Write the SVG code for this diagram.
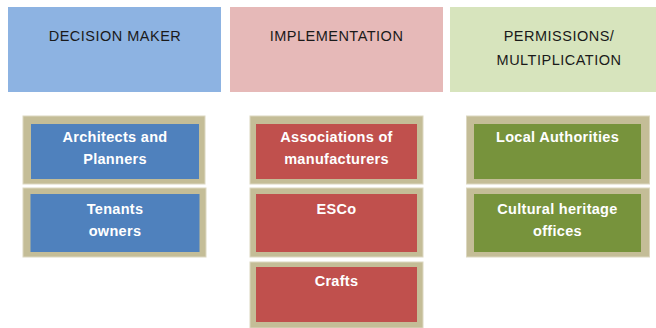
<svg xmlns="http://www.w3.org/2000/svg" width="656" height="328" viewBox="0 0 656 328">
<style>
.hdr{font-family:"Liberation Sans",Arial,sans-serif;font-size:14.5px;letter-spacing:0.5px;fill:#1a1a1a;text-anchor:middle}
.lbl{font-family:"Liberation Sans",Arial,sans-serif;font-size:14.5px;font-weight:bold;letter-spacing:0.3px;fill:#ffffff;text-anchor:middle}
.frame{fill:#C4BD97;stroke:#DCD7C0;stroke-width:1}
.blue{fill:#4F81BD}
.red{fill:#C0504D}
.green{fill:#77933C}
</style>
<rect width="656" height="328" fill="#ffffff"/>
<g id="hdr-decision">
<rect x="8" y="7" width="213" height="85" fill="#8DB3E2"/>
<text class="hdr" x="115" y="40.5">DECISION MAKER</text>
</g>
<g id="hdr-implementation">
<rect x="230" y="7" width="213" height="85" fill="#E6B9B8"/>
<text class="hdr" x="336.5" y="40.5">IMPLEMENTATION</text>
</g>
<g id="hdr-permissions">
<rect x="450" y="7" width="213" height="85" fill="#D7E4BD"/>
<text class="hdr" x="559" y="40.5">PERMISSIONS/</text>
<text class="hdr" x="559" y="65">MULTIPLICATION</text>
</g>
<g id="connectors"/>
<g id="architects">
<rect class="frame" x="23" y="116" width="182" height="68"/>
<rect class="blue" x="31" y="124" width="168" height="55"/>
<text class="lbl" x="115" y="141.5">Architects and</text>
<text class="lbl" x="115" y="163.5">Planners</text>
</g>
<g id="tenants">
<rect class="frame" x="23" y="188" width="183" height="69"/>
<rect class="blue" x="30.5" y="194" width="169" height="58"/>
<text class="lbl" x="115" y="213.5">Tenants</text>
<text class="lbl" x="115" y="235.5">owners</text>
</g>
<g id="associations">
<rect class="frame" x="250" y="116" width="173" height="68"/>
<rect class="red" x="256" y="124" width="161" height="55"/>
<text class="lbl" x="336.5" y="141.5">Associations of</text>
<text class="lbl" x="336.5" y="163.5">manufacturers</text>
</g>
<g id="esco">
<rect class="frame" x="250" y="188" width="173" height="69"/>
<rect class="red" x="256" y="194" width="161" height="58"/>
<text class="lbl" x="336.5" y="213.5">ESCo</text>
</g>
<g id="crafts">
<rect class="frame" x="250" y="262" width="173" height="66"/>
<rect class="red" x="256" y="267" width="161" height="55"/>
<text class="lbl" x="336.5" y="285.5">Crafts</text>
</g>
<g id="local-authorities">
<rect class="frame" x="466.5" y="116" width="183" height="68"/>
<rect class="green" x="474" y="124" width="167" height="55"/>
<text class="lbl" x="557.5" y="141.5">Local Authorities</text>
</g>
<g id="cultural-heritage">
<rect class="frame" x="466.5" y="188" width="183" height="69"/>
<rect class="green" x="474" y="194" width="167" height="58"/>
<text class="lbl" x="557.5" y="213.5">Cultural heritage</text>
<text class="lbl" x="557.5" y="235.5">offices</text>
</g>
</svg>
